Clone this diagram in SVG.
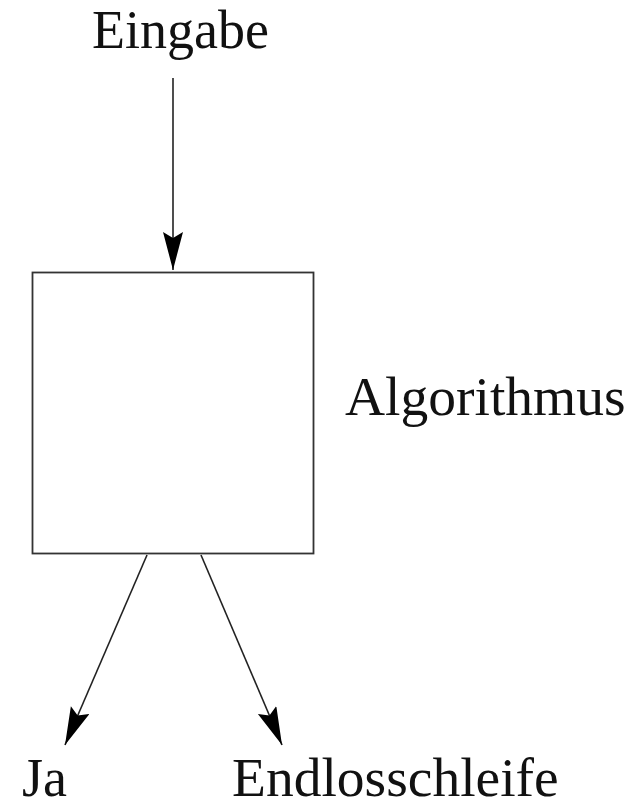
<svg xmlns="http://www.w3.org/2000/svg" width="634" height="811" viewBox="0 0 634 811">
<style>
text{font-family:"Liberation Serif","Times New Roman",serif;font-size:54px;fill:#111}
.big{font-size:55.5px}
.ln{stroke:#222;stroke-width:1.6;fill:none}
</style>
<defs>
<marker id="ah" markerUnits="userSpaceOnUse" markerWidth="40" markerHeight="22" refX="38" refY="10" orient="auto" viewBox="0 0 40 22">
<path d="M0,0 L38,10 L0,20 L6,10 z" fill="#000"/>
</marker>
</defs>
<rect width="634" height="811" fill="#fff"/>
<g id="eingabe"><text x="92" y="48">Eingabe</text></g>
<g id="algorithmus"><rect x="32.5" y="272.5" width="281" height="281" fill="none" stroke="#333" stroke-width="1.8"/><text class="big" x="345" y="415">Algorithmus</text></g>
<g id="ja"><text x="22" y="796">Ja</text></g>
<g id="endlos"><text class="big" x="232" y="796">Endlosschleife</text></g>
<g id="connectors">
<line class="ln" x1="173" y1="78" x2="173" y2="270" marker-end="url(#ah)"/>
<line class="ln" x1="147" y1="555" x2="65" y2="745" marker-end="url(#ah)"/>
<line class="ln" x1="201" y1="555" x2="282" y2="745" marker-end="url(#ah)"/>
</g>
</svg>
